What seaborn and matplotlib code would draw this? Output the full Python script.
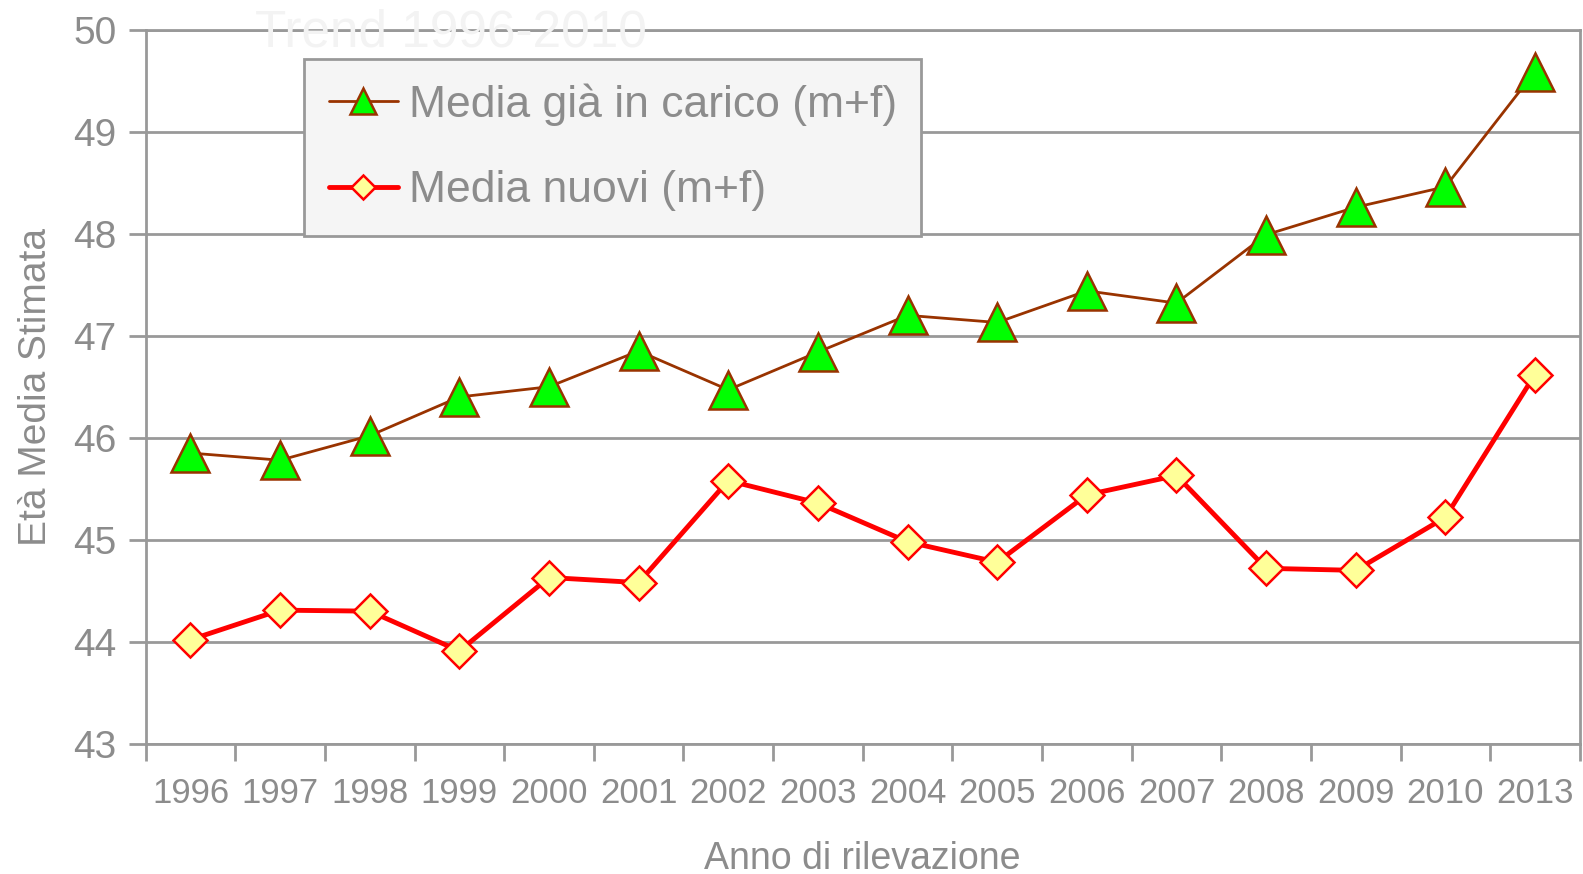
import pandas as pd
import seaborn as sns
import matplotlib.pyplot as plt

# data
anni = ["1996", "1997", "1998", "1999", "2000", "2001", "2002", "2003",
        "2004", "2005", "2006", "2007", "2008", "2009", "2010", "2013"]
media_in_carico = [45.85, 45.78, 46.02, 46.40, 46.50, 46.85, 46.47, 46.84,
                   47.20, 47.13, 47.44, 47.32, 47.99, 48.26, 48.46, 49.59]
media_nuovi = [44.02, 44.31, 44.30, 43.91, 44.63, 44.58, 45.58, 45.36,
               44.98, 44.78, 45.44, 45.63, 44.72, 44.70, 45.22, 46.62]

sns.set_style("white")
plt.rcParams['font.family'] = ['Liberation Sans', 'DejaVu Sans']

grigio = "#8c8c8c"
linea = "#999999"

fig, ax = plt.subplots(figsize=(15.83, 8.74), dpi=100)
fig.subplots_adjust(left=0.092, right=0.998, top=0.966, bottom=0.149)

# faint title behind the legend
fig.text(0.285, 0.99, "Trend 1996-2010", fontsize=37, color="#f3f3f3",
         ha="center", va="top", zorder=0)

sns.lineplot(x=anni, y=media_in_carico, ax=ax, color="#993300", linewidth=2,
             marker="^", markersize=27, markerfacecolor="#00ff00",
             markeredgecolor="#993300", markeredgewidth=1.8,
             label="Media già in carico (m+f)", zorder=4)
sns.lineplot(x=anni, y=media_nuovi, ax=ax, color="#ff0000", linewidth=3.5,
             marker="D", markersize=17, markerfacecolor="#ffff99",
             markeredgecolor="#ff0000", markeredgewidth=1.8,
             label="Media nuovi (m+f)", zorder=4)

ax.set_ylim(43, 50)
ax.set_xlim(-0.5, len(anni) - 0.5)
ax.set_yticks(range(43, 51))
ax.yaxis.grid(True, color=linea, linewidth=2)
ax.set_axisbelow(True)

# category boundary ticks on x, like Excel
ax.set_xticks([i - 0.5 for i in range(len(anni) + 1)], minor=True)
ax.tick_params(axis="x", which="major", bottom=True, length=0, pad=24,
               labelsize=25, labelcolor=grigio)
ax.tick_params(axis="x", which="minor", bottom=True, length=12, width=2,
               color=linea, direction="out")
ax.tick_params(axis="y", which="major", left=True, length=12, width=2, color=linea,
               direction="out", labelsize=28, labelcolor=grigio, pad=9)

for s in ax.spines.values():
    s.set_color(linea)
    s.set_linewidth(2)

ax.set_xlabel("Anno di rilevazione", fontsize=27, color=grigio, labelpad=22)
ax.set_ylabel("Età Media Stimata", fontsize=28, color=grigio, labelpad=14)

leg = ax.legend(loc="upper left", bbox_to_anchor=(0.1106, 0.959), borderaxespad=0,
                fontsize=32, frameon=True, fancybox=False, framealpha=1,
                facecolor="#f5f5f5", edgecolor=linea, markerscale=0.7,
                handlelength=1.55, handletextpad=0.25, labelspacing=1.0,
                borderpad=0.55)
leg.get_frame().set_linewidth(2)
for t in leg.get_texts():
    t.set_color(grigio)

plt.savefig("out.png", dpi=100)
